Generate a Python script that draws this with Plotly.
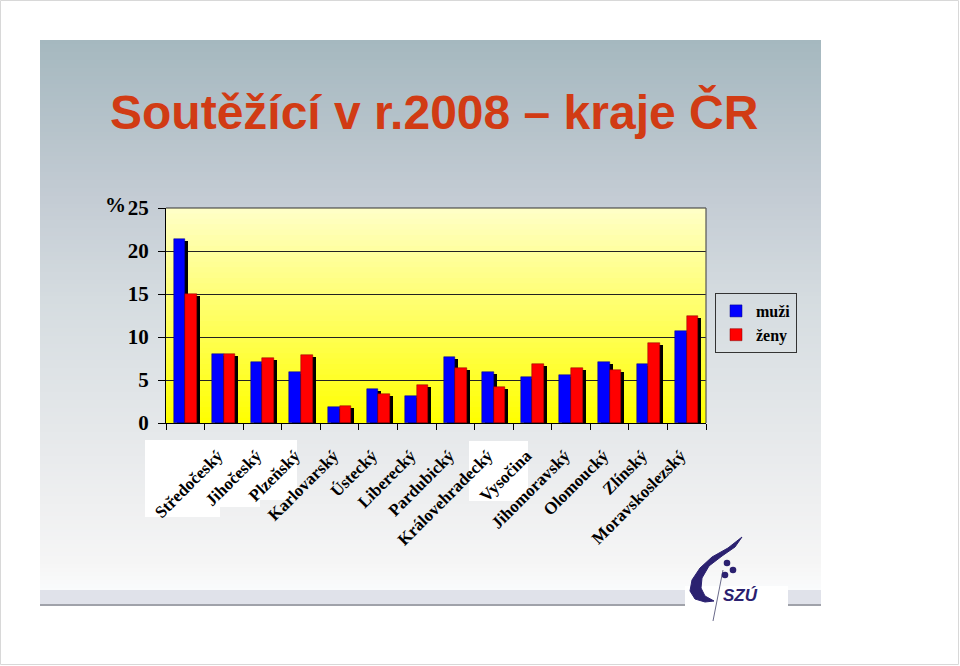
import plotly.graph_objects as go

# ---------------- data ----------------
categories = [" ", "Středočeský", "Jihočeský", "Plzeňský", "Karlovarský", "Ústecký",
              "Liberecký", "Pardubický", "Královehradecký", "Vysočina", "Jihomoravský",
              "Olomoucký", "Zlínský", "Moravskoslezský"]
muzi = [21.4, 8.0, 7.05, 5.95, 1.85, 4.0, 3.1, 7.65, 5.95, 5.3, 5.6, 7.05, 6.9, 10.7]
zeny = [15.0, 8.0, 7.55, 7.9, 2.0, 3.4, 4.45, 6.4, 4.15, 6.9, 6.4, 6.2, 9.25, 12.5]
y_ticks = [0, 5, 10, 15, 20, 25]
title_text = "Soutěžící v r.2008 – kraje ČR"

# ---------------- geometry helpers ----------------
W, H = 960, 666
L, R, T, B = 166, 254, 208, 243
PW, PH = W - L - R, H - T - B


def xp(px):
    return (px - L) / PW


def yp(py):
    return (H - B - py) / PH


def lerp_color(stops, t):
    for (t0, c0), (t1, c1) in zip(stops[:-1], stops[1:]):
        if t0 <= t <= t1:
            f = 0 if t1 == t0 else (t - t0) / (t1 - t0)
            c = [round(a + (b - a) * f) for a, b in zip(c0, c1)]
            return "rgb(%d,%d,%d)" % tuple(c)
    c = stops[-1][1]
    return "rgb(%d,%d,%d)" % tuple(c)


shapes = []

# slide background gradient
slide_stops = [(40, (165, 184, 191)), (200, (196, 204, 212)), (300, (213, 220, 224)),
               (450, (232, 234, 236)), (560, (245, 245, 245)), (590, (250, 251, 252))]
step = 4
py = 40
while py < 590:
    shapes.append(dict(type="rect", xref="paper", yref="paper", layer="below",
                       x0=xp(40), x1=xp(821), y0=yp(py + step + 0.5), y1=yp(py),
                       fillcolor=lerp_color(slide_stops, py + step / 2), line=dict(width=0)))
    py += step
# bottom band + line
shapes.append(dict(type="rect", xref="paper", yref="paper", layer="below",
                   x0=xp(40), x1=xp(821), y0=yp(604), y1=yp(590),
                   fillcolor="#e0e2ea", line=dict(width=0)))
shapes.append(dict(type="rect", xref="paper", yref="paper", layer="below",
                   x0=xp(40), x1=xp(821), y0=yp(606), y1=yp(604),
                   fillcolor="#a0a2aa", line=dict(width=0)))
# outer page border
shapes.append(dict(type="rect", xref="paper", yref="paper", layer="below",
                   x0=xp(0.5), x1=xp(958.5), y0=yp(664.5), y1=yp(0.5),
                   fillcolor="rgba(0,0,0,0)", line=dict(color="#d8d8d8", width=1)))

# plot-area yellow gradient
n = 40
for i in range(n):
    t0 = i / n
    t1 = (i + 1) / n
    g = (i + 0.5) / n
    blue = round(0 + 200 * g)
    shapes.append(dict(type="rect", xref="x domain", yref="y domain", layer="below",
                       x0=0, x1=1, y0=t0, y1=min(1, t1 + 0.003),
                       fillcolor="rgb(255,255,%d)" % blue, line=dict(width=0)))

# white label patches
for (a, b_, c, d) in [(145, 220, 440, 517), (220, 260, 440, 507), (260, 297, 440, 500), (469, 528, 441, 501)]:
    shapes.append(dict(type="rect", xref="paper", yref="paper", layer="below",
                       x0=xp(a), x1=xp(b_), y0=yp(d), y1=yp(c),
                       fillcolor="white", line=dict(width=0)))

# top and right plot border
shapes.append(dict(type="line", xref="x domain", yref="y domain", x0=0, x1=1, y0=1, y1=1,
                   line=dict(color="#333333", width=1.2)))
shapes.append(dict(type="line", xref="x domain", yref="y domain", x0=1, x1=1, y0=0, y1=1,
                   line=dict(color="#555555", width=1.2)))

# ---------------- logo (SZÚ) ----------------
shapes.append(dict(type="rect", xref="paper", yref="paper", layer="below",
                   x0=xp(685), x1=xp(788), y0=yp(608), y1=yp(586),
                   fillcolor="white", line=dict(width=0)))


def path_from(points):
    s = "M %f,%f " % (xp(points[0][0]), yp(points[0][1]))
    for (a, b_) in points[1:]:
        s += "L %f,%f " % (xp(a), yp(b_))
    return s + "Z"


swoosh = [(742, 537), (728, 548), (712, 557), (700, 568), (692, 580), (690, 591), (695, 599),
          (705, 602), (714, 601), (705, 596), (701, 588), (702, 578), (709, 566), (722, 556),
          (735, 547)]
navy = "#2b2170"
shapes.append(dict(type="path", xref="paper", yref="paper", path=path_from(swoosh),
                   fillcolor=navy, line=dict(color=navy, width=1)))
shapes.append(dict(type="line", xref="paper", yref="paper",
                   x0=xp(723), y0=yp(570), x1=xp(713), y1=yp(621),
                   line=dict(color="#6a6a8a", width=1)))
for (cx, cy) in [(727, 563), (733, 570), (725, 575)]:
    r = 3.3
    shapes.append(dict(type="circle", xref="paper", yref="paper",
                       x0=xp(cx - r), x1=xp(cx + r), y0=yp(cy + r), y1=yp(cy - r),
                       fillcolor=navy, line=dict(width=0)))

# ---------------- traces ----------------
bw = 0.3
sdx = 3 / (PW / len(categories))
sdy = 2 / (PH / 25)
fig = go.Figure()
for vals, off in [(muzi, -bw), (zeny, 0.0)]:
    fig.add_trace(go.Bar(x=categories, y=[v - sdy for v in vals], width=bw, offset=off + sdx,
                         marker=dict(color="black", line=dict(width=0)), showlegend=False,
                         hoverinfo="skip"))
fig.add_trace(go.Bar(x=categories, y=muzi, width=bw, offset=-bw, name="muži",
                     marker=dict(color="#0000ff", line=dict(color="#000080", width=0.5))))
fig.add_trace(go.Bar(x=categories, y=zeny, width=bw, offset=0.0, name="ženy",
                     marker=dict(color="#ff0000", line=dict(color="#800000", width=0.5))))

serif = "Liberation Serif"
annotations = [
    dict(text=title_text, xref="paper", yref="paper", x=xp(108), y=yp(112),
         xanchor="left", yanchor="middle", showarrow=False,
         font=dict(family="Liberation Sans", size=48, color="#d13b14", weight="bold")),
    dict(text="%", xref="paper", yref="paper", x=xp(103), y=yp(205),
         xanchor="left", yanchor="middle", showarrow=False,
         font=dict(family=serif, size=21, color="black", weight="bold")),
    dict(text="SZÚ", xref="paper", yref="paper", x=xp(740), y=yp(595),
         xanchor="center", yanchor="middle", showarrow=False,
         font=dict(family="Liberation Sans", size=17, color=navy, weight="bold", style="italic")),
]

fig.update_layout(
    template="none",
    width=W, height=H, autosize=False,
    margin=dict(l=L, r=R, t=T, b=B, pad=0),
    paper_bgcolor="white", plot_bgcolor="rgba(0,0,0,0)",
    barmode="overlay", bargap=0,
    shapes=shapes, annotations=annotations,
    legend=dict(x=xp(715), y=yp(293), xanchor="left", yanchor="top",
                bgcolor="rgba(0,0,0,0)", bordercolor="#333333", borderwidth=1,
                font=dict(family=serif, size=16, color="black", weight="bold"),
                itemwidth=30, tracegroupgap=0),
    showlegend=True,
)
fig.update_xaxes(type="category", tickson="boundaries", ticks="outside", ticklen=6,
                 tickcolor="black", showline=True, linecolor="black", linewidth=1.2,
                 showgrid=False, tickangle=-45, automargin=False,
                 ticklabelstandoff=15, ticklabelshift=-6,
                 tickfont=dict(family=serif, size=17, color="black", weight="bold"))
fig.update_yaxes(range=[0, 25], tickvals=y_ticks, ticks="outside", ticklen=7,
                 tickcolor="black", showline=True, linecolor="black", linewidth=1.2,
                 showgrid=True, gridcolor="#222222", gridwidth=1.2, zeroline=False,
                 automargin=False, ticklabelstandoff=5,
                 tickfont=dict(family=serif, size=21, color="black", weight="bold"))

fig.write_html("out.html")
